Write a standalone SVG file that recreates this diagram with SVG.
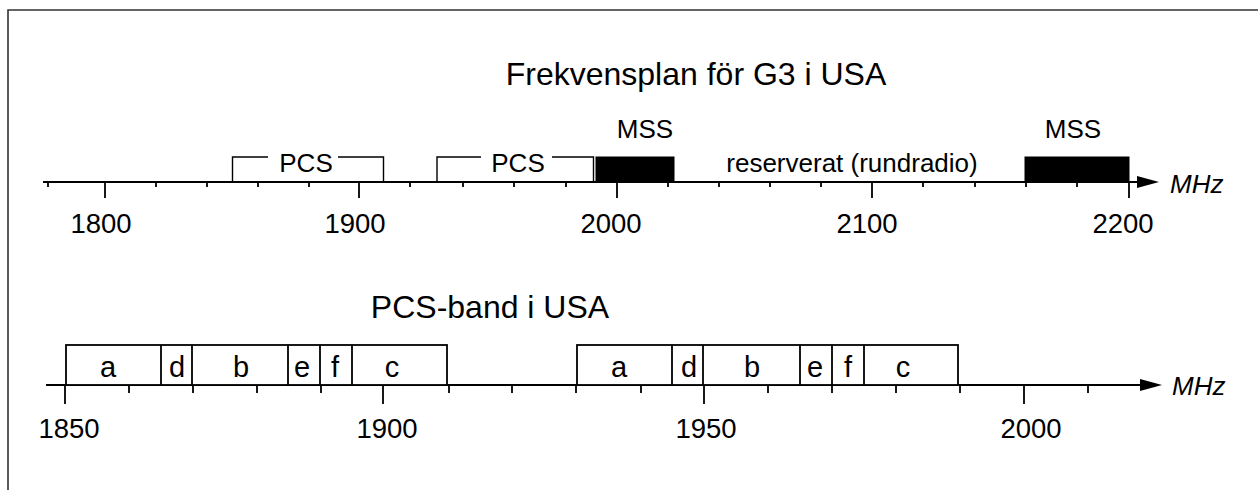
<svg xmlns="http://www.w3.org/2000/svg" width="1258" height="490" viewBox="0 0 1258 490">
<style>
text{font-family:"Liberation Sans",Arial,sans-serif;fill:#000}
.t{font-size:32px}
.l{font-size:26px}
.n{font-size:27.5px}
.b{font-size:29px}
.c{text-anchor:middle}
.it{font-style:italic;font-size:26px}
.ax{stroke:#000;stroke-width:2.2;fill:none}
.tk{stroke:#000;stroke-width:1.8;fill:none}
.br{stroke:#000;stroke-width:1.4;fill:none}
.bx{stroke:#000;stroke-width:1.8;fill:#fff}
.blk{fill:#000;stroke:#000;stroke-width:1}
</style>
<rect width="1258" height="490" fill="#fff"/>
<path d="M8,490 V10 H1258" fill="none" stroke="#333" stroke-width="1.6"/>

<g id="titles">
<text class="t c" x="696" y="85">Frekvensplan för G3 i USA</text>
<text class="t c" x="490" y="318">PCS-band i USA</text>
</g>

<g id="connectors">
<!-- top axis -->
<line class="ax" x1="43" y1="182" x2="1140" y2="182"/>
<polygon points="1137,176 1159,182 1137,188" fill="#000"/>
<path class="tk" d="M48,182v5 M156,182v5 M207,182v5 M258,182v5 M309,182v5 M410,182v5 M463,182v5 M514,182v5 M566,182v5 M668,182v5 M719,182v5 M770,182v5 M821,182v5 M923,182v5 M975,182v5 M1026,182v5 M1077,182v5"/>
<path class="tk" d="M105,182v16 M359,182v16 M617,182v16 M872,182v16 M1129,182v16"/>
<!-- bottom axis -->
<line class="ax" x1="46" y1="385" x2="1142" y2="385"/>
<polygon points="1140,379 1162,385 1140,391" fill="#000"/>
<path class="tk" d="M129,385v8 M193,385v8 M257,385v8 M321,385v8 M449,385v8 M512,385v8 M576,385v8 M641,385v8 M768,385v8 M832,385v8 M896,385v8 M960,385v8 M1088,385v8"/>
<path class="tk" d="M65,385v19 M383,385v19 M704,385v19 M1024,385v19"/>
</g>

<g id="axis-labels">
<text class="n c" x="101" y="233">1800</text>
<text class="n c" x="355" y="233">1900</text>
<text class="n c" x="611" y="233">2000</text>
<text class="n c" x="867" y="233">2100</text>
<text class="n c" x="1123" y="233">2200</text>
<text class="it" x="1170" y="193">MHz</text>
<text class="n c" x="69" y="438">1850</text>
<text class="n c" x="387" y="438">1900</text>
<text class="n c" x="706" y="438">1950</text>
<text class="n c" x="1031" y="438">2000</text>
<text class="it" x="1172" y="395">MHz</text>
</g>

<g id="pcs1">
<path class="br" d="M232.5,182 V157 H268 M338,157 H383.5 V182"/>
<text class="l c" x="306" y="172">PCS</text>
</g>
<g id="pcs2">
<path class="br" d="M437,182 V157 H481 M552,157 H593.5 V182"/>
<text class="l c" x="518" y="172">PCS</text>
</g>
<g id="mss1">
<rect class="blk" x="596" y="157" width="78" height="25"/>
<text class="l c" x="645" y="138">MSS</text>
</g>
<g id="reserved">
<text class="l c" x="852" y="172">reserverat (rundradio)</text>
</g>
<g id="mss2">
<rect class="blk" x="1025" y="157" width="104" height="25"/>
<text class="l c" x="1073" y="138">MSS</text>
</g>

<g id="band1">
<rect class="bx" x="66" y="345" width="381" height="40"/>
<path class="tk" d="M161,345v40 M192,345v40 M288,345v40 M320,345v40 M352,345v40"/>
<text class="b c" x="108" y="377">a</text>
<text class="b c" x="177" y="377">d</text>
<text class="b c" x="241" y="377">b</text>
<text class="b c" x="302" y="377">e</text>
<text class="b c" x="335" y="377">f</text>
<text class="b c" x="392" y="377">c</text>
</g>
<g id="band2">
<rect class="bx" x="577" y="345" width="381" height="40"/>
<path class="tk" d="M672,345v40 M703,345v40 M800,345v40 M832,345v40 M864,345v40"/>
<text class="b c" x="619" y="377">a</text>
<text class="b c" x="689" y="377">d</text>
<text class="b c" x="752" y="377">b</text>
<text class="b c" x="815" y="377">e</text>
<text class="b c" x="848" y="377">f</text>
<text class="b c" x="903" y="377">c</text>
</g>
</svg>
